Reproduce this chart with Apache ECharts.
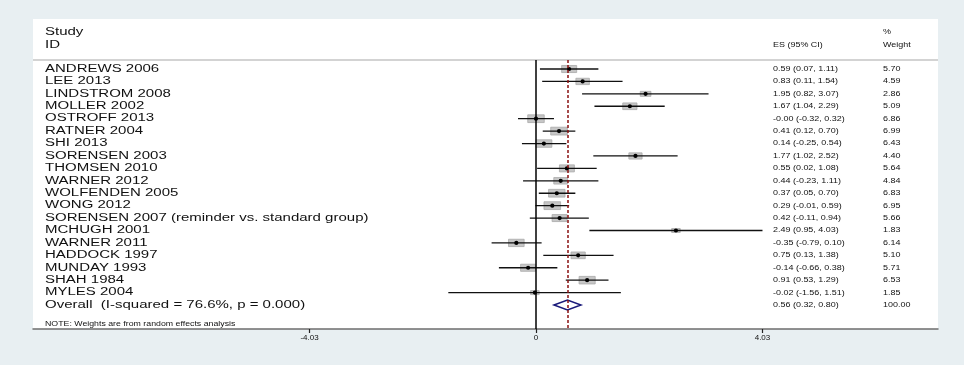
<!DOCTYPE html>
<html>
<head>
<meta charset="utf-8">
<script src="https://cdn.jsdelivr.net/npm/echarts@6/dist/echarts.min.js"></script>
<style>
  html, body { margin: 0; padding: 0; background: #e8eff2; }
  #main { width: 964px; height: 365px; }
</style>
</head>
<body>
<div id="main"></div>
<script>
// study rows, top to bottom
var studies = ['ANDREWS 2006', 'LEE 2013', 'LINDSTROM 2008', 'MOLLER 2002', 'OSTROFF 2013',
    'RATNER 2004', 'SHI 2013', 'SORENSEN 2003', 'THOMSEN 2010', 'WARNER 2012',
    'WOLFENDEN 2005', 'WONG 2012', 'SORENSEN 2007 (reminder vs. standard group)',
    'MCHUGH 2001', 'WARNER 2011', 'HADDOCK 1997', 'MUNDAY 1993', 'SHAH 1984', 'MYLES 2004'];
var es = [0.59, 0.83, 1.95, 1.67, -0.00, 0.41, 0.14, 1.77, 0.55, 0.44, 0.37, 0.29, 0.42, 2.49, -0.35, 0.75, -0.14, 0.91, -0.02];
var ciLow = [0.07, 0.11, 0.82, 1.04, -0.32, 0.12, -0.25, 1.02, 0.02, -0.23, 0.05, -0.01, -0.11, 0.95, -0.79, 0.13, -0.66, 0.53, -1.56];
var ciHigh = [1.11, 1.54, 3.07, 2.29, 0.32, 0.70, 0.54, 2.52, 1.08, 1.11, 0.70, 0.59, 0.94, 4.03, 0.10, 1.38, 0.38, 1.29, 1.51];
var weights = [5.70, 4.59, 2.86, 5.09, 6.86, 6.99, 6.43, 4.40, 5.64, 4.84, 6.83, 6.95, 5.66, 1.83, 6.14, 5.10, 5.71, 6.53, 1.85];

// pooled estimate
var overallLabel = 'Overall  (I-squared = 76.6%, p = 0.000)';
var overall = [0.56, 0.32, 0.80, 100.00]; // es, low, high, weight
var xTicks = [-4.03, 0, 4.03];

var FONT = '"Liberation Sans", Arial, sans-serif';
var SX = 1.5;  // the source picture is stretched sideways
var SX_SMALL = 1.28;

function fmt(v) {
    return (Object.is(v, -0) ? '-' : '') + v.toFixed(2);
}

function txt(x, y, s, size, sx) {
    return {
        type: 'text', x: x, y: y, scaleX: sx, silent: true,
        style: { x: 0, y: 0, text: s, font: size + 'px ' + FONT, fill: '#111',
                 textAlign: 'left', textVerticalAlign: 'middle' }
    };
}

var rows = studies.map(function (s, i) {
    return [i, es[i], ciLow[i], ciHigh[i], weights[i]];
});

var chart = echarts.init(document.getElementById('main'));

var option = {
    backgroundColor: '#e8eff2',
    animation: false,
    grid: { left: 33, right: 26, top: 60, bottom: 36 },
    xAxis: {
        type: 'value',
        position: 'bottom',
        min: -8.95, max: 7.153,
        splitLine: { show: false },
        axisLine: { show: true, onZero: false, lineStyle: { color: '#6e6e6e', width: 1.5 } },
        axisTick: { show: true, customValues: xTicks, length: 4, inside: false,
                    lineStyle: { color: '#222', width: 1.2 } },
        axisLabel: { customValues: xTicks, fontSize: 8, color: '#111', fontFamily: FONT, margin: 5,
                     formatter: function (v) { return String(v); } }
    },
    yAxis: {
        type: 'value', inverse: true,
        min: -0.725, max: 20.93,
        show: false
    },
    graphic: [
        { type: 'rect', z: -10, silent: true, shape: { x: 33, y: 19, width: 905, height: 310 },
          style: { fill: '#ffffff' } },
        { type: 'line', z: -5, silent: true, shape: { x1: 33, y1: 60, x2: 938, y2: 60 },
          style: { stroke: '#d3d3d3', lineWidth: 2 } },
        txt(45, 32, 'Study', 10, SX),
        txt(45, 45, 'ID', 10, SX),
        txt(773, 45, 'ES (95% CI)', 7, SX_SMALL),
        txt(883, 32, '%', 7, SX_SMALL),
        txt(883, 45, 'Weight', 7, SX_SMALL),
        txt(45, 324, 'NOTE: Weights are from random effects analysis', 6.5, 1.35)
    ],
    series: [
        {
            type: 'custom',
            name: 'studies',
            data: rows,
            encode: { x: [1, 2, 3], y: 0 },
            clip: false,
            renderItem: function (params, api) {
                var i = api.value(0);
                var y = api.coord([0, i])[1];
                var cx = api.coord([api.value(1), i])[0];
                var x1 = api.coord([api.value(2), i])[0];
                var x2 = api.coord([api.value(3), i])[0];
                var w = api.value(4);
                var bw = 6.3 * Math.sqrt(w);
                var bh = bw * 0.47;
                return {
                    type: 'group',
                    children: [
                        { type: 'rect', shape: { x: cx - bw / 2, y: y - bh / 2, width: bw, height: bh },
                          style: { fill: '#c6c6c6', stroke: '#a9a9a9', lineWidth: 0.8 } },
                        { type: 'line', shape: { x1: x1, y1: y, x2: x2, y2: y },
                          style: { stroke: '#111', lineWidth: 1.3 } },
                        { type: 'circle', shape: { cx: cx, cy: y, r: 2.1 }, style: { fill: '#000' } },
                        txt(45, y, studies[i], 10, SX),
                        txt(773, y, fmt(es[i]) + ' (' + fmt(ciLow[i]) + ', ' + fmt(ciHigh[i]) + ')', 7, SX_SMALL),
                        txt(883, y, weights[i].toFixed(2), 7, SX_SMALL)
                    ]
                };
            },
            markLine: {
                silent: true, symbol: 'none', label: { show: false },
                data: [
                    { xAxis: 0, lineStyle: { color: '#000', width: 1.5, type: 'solid' } },
                    { xAxis: overall[0], lineStyle: { color: '#8b1010', width: 1.5, type: [3, 2] } }
                ]
            },
            z: 3
        },
        {
            type: 'custom',
            name: 'overall',
            data: [[studies.length, overall[0], overall[1], overall[2], overall[3]]],
            encode: { x: [1, 2, 3], y: 0 },
            clip: false,
            renderItem: function (params, api) {
                var i = api.value(0);
                var y = api.coord([0, i])[1];
                var cx = api.coord([api.value(1), i])[0];
                var x1 = api.coord([api.value(2), i])[0];
                var x2 = api.coord([api.value(3), i])[0];
                return {
                    type: 'group',
                    children: [
                        { type: 'polygon', shape: { points: [[x1, y], [cx, y - 5], [x2, y], [cx, y + 5]] },
                          style: { fill: '#fff', stroke: '#1a1a7a', lineWidth: 1.5 } },
                        txt(45, y, overallLabel, 10, SX),
                        txt(773, y, fmt(overall[0]) + ' (' + fmt(overall[1]) + ', ' + fmt(overall[2]) + ')', 7, SX_SMALL),
                        txt(883, y, overall[3].toFixed(2), 7, SX_SMALL)
                    ]
                };
            },
            z: 4
        }
    ]
};

chart.setOption(option);
</script>
</body>
</html>
